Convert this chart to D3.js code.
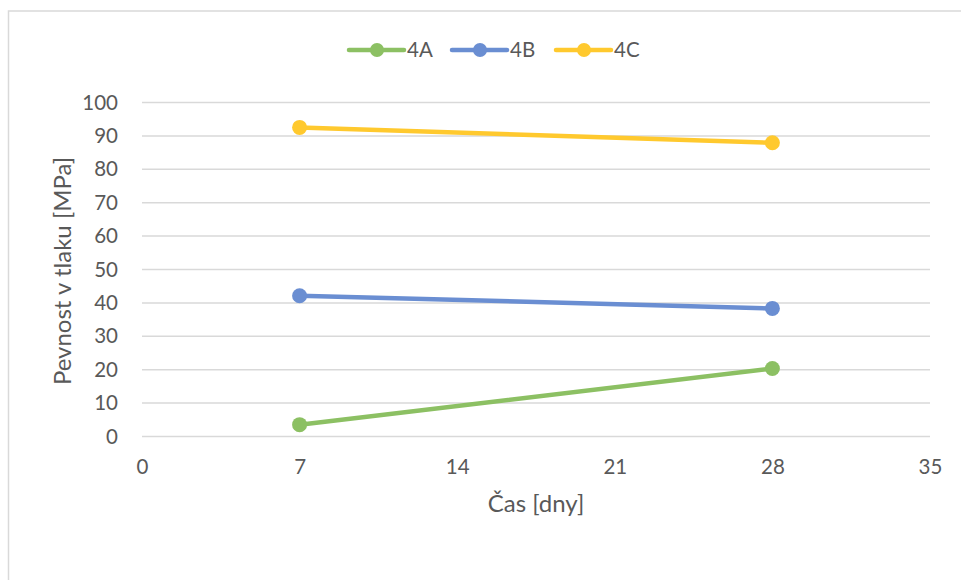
<!DOCTYPE html>
<html>
<head>
<meta charset="utf-8">
<script src="https://cdn.jsdelivr.net/npm/d3@7"></script>
<style>
  body { margin: 0; background: #fff; }
  svg text { font-family: Lato, "Open Sans", sans-serif; fill: #595959; }
</style>
</head>
<body>
<svg id="chart" width="961" height="580"></svg>
<script>
// chart data
let days = [7, 28];
let seriesNames = ["4A", "4B", "4C"];
let values4A = [3.4, 20.2];
let values4B = [42.0, 38.2];
let values4C = [92.4, 87.8];
let xTicks = [0, 7, 14, 21, 28, 35];
let yTicks = [0, 10, 20, 30, 40, 50, 60, 70, 80, 90, 100];
let colors = ["#8cc063", "#6a8ed2", "#ffc92e"];

window.onload = function() {
   drawGraphic();
}

function drawGraphic() {
   let width = 961;
   let height = 580;
   let margin = {top: 102, right: 31, bottom: 144, left: 142};

   let svg = d3.select("svg#chart");

   // chart frame, runs off the right and bottom edges
   svg.append("rect")
      .attr("x", 8.5)
      .attr("y", 11)
      .attr("width", 1000)
      .attr("height", 700)
      .attr("fill", "none")
      .attr("stroke", "#d9d9d9")
      .attr("stroke-width", 1.5);

   let x = d3.scaleLinear()
      .domain([0, 35])
      .range([margin.left, width - margin.right]);
   let y = d3.scaleLinear()
      .domain([0, 100])
      .range([height - margin.bottom, margin.top]);

   // gridlines
   svg.append("g")
      .attr("transform", "translate(" + margin.left + ",0)")
      .call(d3.axisLeft(y).tickValues(yTicks).tickSize(-(width - margin.left - margin.right)).tickFormat(""))
      .call(g => g.select(".domain").remove())
      .call(g => g.selectAll("line").attr("stroke", "#d9d9d9").attr("stroke-width", 1.5));

   // left tick labels
   svg.append("g")
      .attr("transform", "translate(" + (margin.left - 24) + ",0)")
      .call(d3.axisLeft(y).tickValues(yTicks).tickSize(0).tickPadding(0))
      .call(g => g.select(".domain").remove())
      .call(g => g.selectAll("text").attr("font-size", 20.5).attr("dy", "0.35em"));

   // bottom tick labels
   svg.append("g")
      .attr("transform", "translate(0," + (height - margin.bottom + 31) + ")")
      .call(d3.axisBottom(x).tickValues(xTicks).tickSize(0).tickPadding(0))
      .call(g => g.select(".domain").remove())
      .call(g => g.selectAll("text").attr("font-size", 20.5).attr("dy", "0.35em"));

   // axis titles
   svg.append("text")
      .attr("x", (x(0) + x(35)) / 2)
      .attr("y", 512)
      .attr("text-anchor", "middle")
      .attr("font-size", 24)
      .text("Čas [dny]");

   let xcenter = 71;
   let ycenter = (y(0) + y(100)) / 2 + 2;
   svg.append("text")
      .attr("transform", "rotate(-90," + xcenter + "," + ycenter + ")")
      .attr("x", xcenter)
      .attr("y", ycenter)
      .attr("text-anchor", "middle")
      .attr("font-size", 24)
      .text("Pevnost v tlaku [MPa]");

   // series
   let allValues = [values4A, values4B, values4C];
   let series = seriesNames.map((name, i) => ({
      name: name,
      color: colors[i],
      points: days.map((d, j) => ({day: d, value: allValues[i][j]}))
   }));

   let line = d3.line()
      .x(d => x(d.day))
      .y(d => y(d.value));

   let groups = svg.append("g").selectAll("g")
      .data(series)
      .join("g");

   groups.append("path")
      .attr("d", d => line(d.points))
      .attr("fill", "none")
      .attr("stroke", d => d.color)
      .attr("stroke-width", 4.5)
      .attr("stroke-linecap", "round");

   groups.selectAll("circle")
      .data(d => d.points.map(p => ({...p, color: d.color})))
      .join("circle")
         .attr("cx", d => x(d.day))
         .attr("cy", d => y(d.value))
         .attr("r", 7.5)
         .attr("fill", d => d.color);

   // legend
   let legendX = [349, 452, 556];
   let legendY = 50;
   let legend = svg.append("g").selectAll("g")
      .data(series)
      .join("g")
         .attr("transform", (d, i) => "translate(" + legendX[i] + "," + legendY + ")");
   legend.append("line")
      .attr("x1", 0).attr("x2", 55)
      .attr("stroke", d => d.color)
      .attr("stroke-width", 4.5)
      .attr("stroke-linecap", "round");
   legend.append("circle")
      .attr("cx", 28)
      .attr("r", 7)
      .attr("fill", d => d.color);
   legend.append("text")
      .attr("x", 58)
      .attr("dy", "0.35em")
      .attr("font-size", 20.5)
      .text(d => d.name);
}
</script>
</body>
</html>
